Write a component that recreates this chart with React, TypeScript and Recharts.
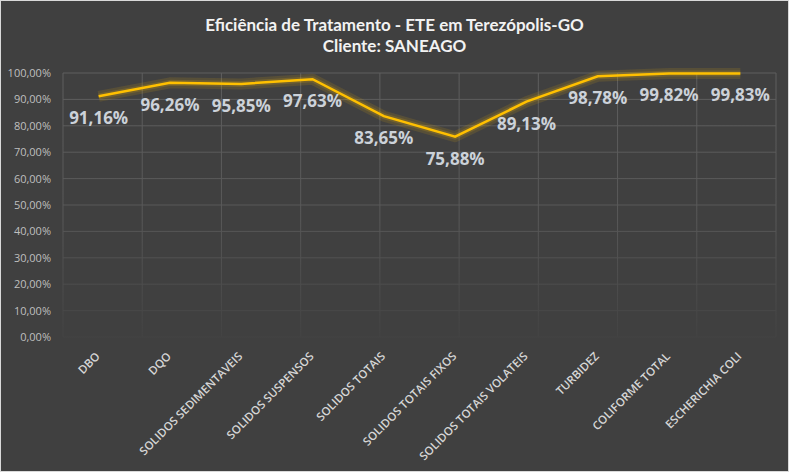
import { LineChart, Line, XAxis, YAxis, CartesianGrid, LabelList } from 'recharts';

const categories = [
  'DBO', 'DQO', 'SOLIDOS SEDIMENTAVEIS', 'SOLIDOS SUSPENSOS', 'SOLIDOS TOTAIS',
  'SOLIDOS TOTAIS FIXOS', 'SOLIDOS TOTAIS VOLATEIS', 'TURBIDEZ', 'COLIFORME TOTAL', 'ESCHERICHIA COLI',
];
const eficiencia = [91.16, 96.26, 95.85, 97.63, 83.65, 75.88, 89.13, 98.78, 99.82, 99.83];
const yTicks = [0, 10, 20, 30, 40, 50, 60, 70, 80, 90, 100];
// category boundaries for the vertical gridlines
const gridTicks = [0, 1, 2, 3, 4, 5, 6, 7, 8, 9, 10];

const data = categories.map((name, i) => ({ name, value: eficiencia[i] }));

const pct = (v: number) => v.toFixed(2).replace('.', ',') + '%';

const XTick = (props: any) => {
  const { x, y, payload } = props;
  return (
    <text
      transform={`translate(${x + 2},${y + 20}) rotate(-45)`}
      textAnchor="end"
      fontSize={11.5}
      fontWeight={600}
      fontFamily="'Open Sans', sans-serif"
      fill="#d6d6d6"
    >
      {payload.value}
    </text>
  );
};

const ValueLabel = (props: any) => {
  const { x, y, value } = props;
  return (
    <text
      x={x}
      y={y + 28}
      textAnchor="middle"
      fontSize={17}
      fontWeight={700}
      fontFamily="'Open Sans', sans-serif"
      fill="#ccd2d9"
    >
      {pct(value)}
    </text>
  );
};

export default function App() {
  return (
    <div style={{
      position: 'fixed', top: 0, left: 0, width: 789, height: 472,
      boxSizing: 'border-box', border: '1px solid #d9d9d9', background: '#404040',
    }}>
      <div style={{
        position: 'absolute', top: 13, left: 0, width: 787, textAlign: 'center',
        color: '#f2f2f2', fontFamily: "Lato, sans-serif", fontWeight: 700, fontSize: 17, lineHeight: '21px',
      }}>
        Eficiência de Tratamento - ETE em Terezópolis-GO<br />Cliente: SANEAGO
      </div>
      <LineChart width={787} height={470} data={data} margin={{ top: 72, right: 12, left: 0, bottom: 0 }}>
        <defs>
          <linearGradient id="gridFade" x1="0" y1="72" x2="0" y2="336" gradientUnits="userSpaceOnUse">
            <stop offset="0%" stopColor="#5e5e5e" />
            <stop offset="55%" stopColor="#585858" />
            <stop offset="100%" stopColor="#434343" />
          </linearGradient>
        </defs>
        <XAxis xAxisId="grid" type="number" domain={[0, 10]} ticks={gridTicks} allowDataOverflow hide />
        <CartesianGrid xAxisId="grid" stroke="url(#gridFade)" strokeWidth={1} />
        <XAxis
          dataKey="name"
          scale="band"
          interval={0}
          height={134}
          tickSize={0}
          tickMargin={0}
          axisLine={false}
          tick={<XTick />}
        />
        <YAxis
          domain={[0, 100]}
          ticks={yTicks}
          width={62}
          tickSize={0}
          tickMargin={12}
          axisLine={false}
          tickFormatter={pct}
          tick={{ fontSize: 11, fill: '#bfbfbf', fontFamily: "'Open Sans', sans-serif" }}
        />
        <Line dataKey="value" stroke="#ffc000" strokeOpacity={0.12} strokeWidth={11} strokeLinejoin="round" dot={false} activeDot={false} isAnimationActive={false} />
        <Line dataKey="value" stroke="#ffc000" strokeOpacity={0.16} strokeWidth={6} strokeLinejoin="round" dot={false} activeDot={false} isAnimationActive={false} />
        <Line dataKey="value" stroke="#ffc000" strokeWidth={2.5} dot={false} activeDot={false} isAnimationActive={false}>
          <LabelList dataKey="value" content={<ValueLabel />} />
        </Line>
      </LineChart>
    </div>
  );
}
